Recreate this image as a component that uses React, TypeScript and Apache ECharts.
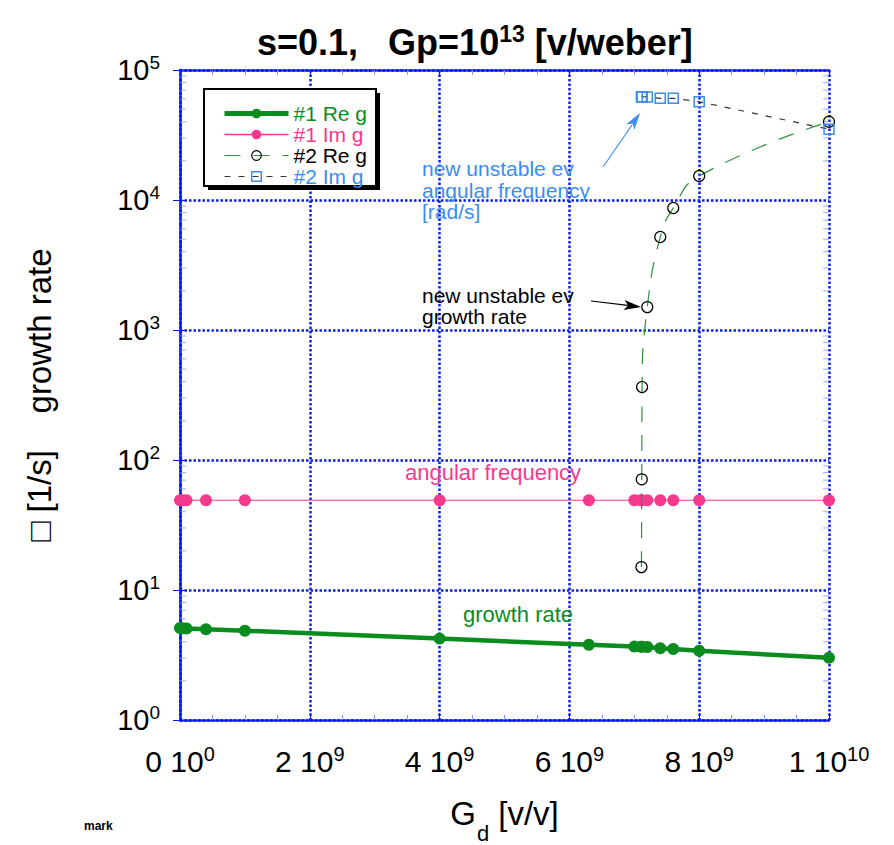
import React, { useEffect, useRef } from "react";
import * as echarts from "echarts";

// ---------- data ----------
const xTickValues = [0, 2e9, 4e9, 6e9, 8e9, 1e10];
const xTickLabels = ["0 10{sup|0}", "2 10{sup|9}", "4 10{sup|9}", "6 10{sup|9}", "8 10{sup|9}", "1 10{sup|10}"];
const yTickValues = [1, 10, 100, 1000, 10000, 100000];
const yTickLabels = ["10{sup|0}", "10{sup|1}", "10{sup|2}", "10{sup|3}", "10{sup|4}", "10{sup|5}"];
const yMinorTicks = [
  2, 3, 4, 5, 6, 7, 8, 9,
  20, 30, 40, 50, 60, 70, 80, 90,
  200, 300, 400, 500, 600, 700, 800, 900,
  2000, 3000, 4000, 5000, 6000, 7000, 8000, 9000,
  20000, 30000, 40000, 50000, 60000, 70000, 80000, 90000,
];

// mode #1 (Gd values)
const gd1 = [0, 0.04e9, 0.1e9, 0.4e9, 1e9, 4e9, 6.3e9, 7.0e9, 7.1e9, 7.12e9, 7.2e9, 7.4e9, 7.6e9, 8e9, 1e10];
const reG1 = [5.1, 5.08, 5.06, 4.99, 4.86, 4.23, 3.79, 3.67, 3.66, 3.66, 3.64, 3.56, 3.52, 3.41, 3.01];
const imG1 = [49, 49, 49, 49, 49, 49, 49, 49, 49, 49, 49, 49, 49, 49, 49];

// mode #2 (new unstable eigenvalue)
const gd2 = [7.11e9, 7.115e9, 7.12e9, 7.2e9, 7.4e9, 7.6e9, 8e9, 1e10];
const reG2 = [15, 71, 364, 1500, 5190, 8680, 15300, 40000];
const imG2 = [62300, 62300, 62300, 62000, 60600, 60500, 57000, 35000];

const FONT = '"Liberation Sans", Arial, Helvetica, sans-serif';
const GRID_BLUE = "#0a1ef0";
const MINOR_BLUE = "#8a94f2";
const GREEN = "#0a8c1e";
const GREEN2 = "#2f9140";
const PINK = "#f53a8e";
const BLUE = "#3d8cf0";

const zip = (xs: number[], ys: number[]) => xs.map((x, i) => [x, ys[i]]);

export default function App() {
  const ref = useRef<HTMLDivElement>(null);
  useEffect(() => {
    if (!ref.current) return;
    const chart = echarts.init(ref.current, null, { renderer: "svg" });

    const dotted = { color: GRID_BLUE, width: 2.5, type: [2.5, 2] as number[] };
    const xLabelFmt = (v: number) => {
      const i = xTickValues.findIndex((t) => Math.abs(t - v) < 1);
      return i >= 0 ? xTickLabels[i] : "";
    };
    const yLabelFmt = (v: number) => {
      const i = yTickValues.findIndex((t) => Math.abs(t - v) / t < 1e-6);
      return i >= 0 ? yTickLabels[i] : "";
    };

    const arrowHead = (tip: number[], from: number[], len: number, half: number, notch: number) => {
      const dx = tip[0] - from[0];
      const dy = tip[1] - from[1];
      const L = Math.hypot(dx, dy);
      const ux = dx / L, uy = dy / L;
      const px = -uy, py = ux;
      const bx = tip[0] - len * ux, by = tip[1] - len * uy;
      const nx = tip[0] - notch * ux, ny = tip[1] - notch * uy;
      return [
        [tip[0], tip[1]],
        [bx + half * px, by + half * py],
        [nx, ny],
        [bx - half * px, by - half * py],
      ];
    };

    const option: any = {
      animation: false,
      backgroundColor: "#fff",
      title: {
        text: "s=0.1,   Gp=10{sup|13} [v/weber]",
        left: 257,
        top: 22,
        padding: 0,
        textStyle: {
          fontFamily: FONT,
          fontSize: 36,
          fontWeight: "bold",
          color: "#000",
          lineHeight: 40,
          rich: {
            sup: { fontFamily: FONT, fontSize: 23, fontWeight: "bold", lineHeight: 15, verticalAlign: "top", color: "#000" },
          },
        },
      },
      grid: { left: 180, right: 65, top: 70, bottom: 125, containLabel: false, outerBoundsMode: "none" },
      legend: {
        orient: "vertical",
        left: 217,
        top: 98,
        itemWidth: 64,
        itemHeight: 12,
        itemGap: 0,
        z: 20,
        selectedMode: false,
        textStyle: { fontFamily: FONT, fontSize: 21, lineHeight: 19.6 },
        data: [
          { name: "#1 Re g", textStyle: { color: GREEN }, lineStyle: { width: 5 }, itemStyle: { borderWidth: 0 } },
          { name: "#1 Im g", textStyle: { color: PINK }, lineStyle: { width: 1.5 }, itemStyle: { borderWidth: 0 } },
          { name: "#2 Re g", textStyle: { color: "#000" }, lineStyle: { width: 1.2 }, itemStyle: { borderWidth: 1.2 } },
          { name: "#2 Im g", textStyle: { color: BLUE }, lineStyle: { width: 1.2 }, itemStyle: { borderWidth: 1.5 } },
        ],
      },
      xAxis: [
        {
          type: "value",
          position: "bottom",
          min: 0,
          max: 1e10,
          interval: 2e9,
          name: "G{sub|d} [v/v]",
          nameLocation: "middle",
          nameGap: 60,
          nameTextStyle: {
            fontFamily: FONT,
            fontSize: 33,
            color: "#000",
            lineHeight: 38,
            rich: {
              sub: { fontFamily: FONT, fontSize: 22, color: "#000", lineHeight: 22, padding: [40, 0, 0, 1] },
            },
          },
          axisLine: { show: true, lineStyle: dotted },
          axisTick: { show: true, inside: true, length: 7, lineStyle: { color: GRID_BLUE, width: 1 } },
          minorTick: { show: true, splitNumber: 4, length: 5, lineStyle: { color: MINOR_BLUE, width: 1 } },
          splitLine: { show: true, lineStyle: dotted },
          axisLabel: {
            formatter: xLabelFmt,
            margin: 24,
            fontFamily: FONT,
            fontSize: 30,
            color: "#000",
            lineHeight: 34,
            rich: {
              sup: { fontFamily: FONT, fontSize: 20, color: "#000", lineHeight: 14, verticalAlign: "top" },
            },
          },
        },
        {
          type: "value",
          position: "top",
          min: 0,
          max: 1e10,
          interval: 2e9,
          axisLine: { show: true, lineStyle: dotted },
          axisTick: { show: true, inside: true, length: 7, lineStyle: { color: GRID_BLUE, width: 1 } },
          minorTick: { show: true, splitNumber: 4, length: 5, lineStyle: { color: MINOR_BLUE, width: 1 } },
          splitLine: { show: false },
          axisLabel: { show: false },
        },
      ],
      yAxis: [
        {
          type: "log",
          logBase: 10,
          position: "left",
          min: 1,
          max: 1e5,
          name: "\u25A1 [1/s]    growth rate",
          nameLocation: "middle",
          nameRotate: 90,
          nameGap: 124,
          nameTextStyle: { fontFamily: FONT, fontSize: 33, color: "#000" },
          axisLine: { show: true, lineStyle: dotted },
          axisTick: { show: true, inside: true, length: 7, lineStyle: { color: GRID_BLUE, width: 1 } },
          splitLine: { show: true, lineStyle: dotted },
          axisLabel: {
            formatter: yLabelFmt,
            margin: 20,
            fontFamily: FONT,
            fontSize: 29,
            color: "#000",
            lineHeight: 34,
            rich: {
              sup: { fontFamily: FONT, fontSize: 19, color: "#000", lineHeight: 14, verticalAlign: "top" },
            },
          },
        },
        {
          type: "log",
          logBase: 10,
          position: "right",
          min: 1,
          max: 1e5,
          axisLine: { show: true, lineStyle: dotted },
          axisTick: { show: true, inside: true, length: 7, lineStyle: { color: GRID_BLUE, width: 1 } },
          splitLine: { show: false },
          axisLabel: { show: false },
        },
      ],
      series: [
        {
          name: "yMinorLeft",
          type: "scatter",
          data: yMinorTicks.map((v) => [0, v]),
          symbol: "rect",
          symbolSize: [6, 1],
          symbolOffset: [3, 0],
          itemStyle: { color: MINOR_BLUE },
          silent: true,
          clip: false,
          z: 1,
        },
        {
          name: "yMinorRight",
          type: "scatter",
          data: yMinorTicks.map((v) => [1e10, v]),
          symbol: "rect",
          symbolSize: [6, 1],
          symbolOffset: [-3, 0],
          itemStyle: { color: MINOR_BLUE },
          silent: true,
          clip: false,
          z: 1,
        },
        {
          name: "#1 Re g",
          type: "line",
          data: zip(gd1, reG1),
          symbol: "circle",
          symbolSize: 12,
          lineStyle: { color: GREEN, width: 4.5 },
          itemStyle: { color: GREEN },
          clip: false,
          z: 5,
        },
        {
          name: "#1 Im g",
          type: "line",
          data: zip(gd1, imG1),
          symbol: "circle",
          symbolSize: 12,
          lineStyle: { color: PINK, width: 1.2 },
          itemStyle: { color: PINK },
          clip: false,
          z: 5,
        },
        {
          name: "#2 Re g",
          type: "line",
          data: zip(gd2, reG2),
          symbol: "circle",
          symbolSize: 11,
          smooth: 0.5,
          lineStyle: { color: GREEN2, width: 1.2, type: [16, 13] },
          itemStyle: { color: "transparent", borderColor: "#000", borderWidth: 1.2 },
          clip: false,
          z: 6,
        },
        {
          name: "#2 Im g",
          type: "line",
          data: zip(gd2, imG2),
          symbol: "rect",
          symbolSize: 10,
          lineStyle: { color: "#333", width: 1.2, type: [6, 8] },
          itemStyle: { color: "transparent", borderColor: BLUE, borderWidth: 1.5 },
          clip: false,
          z: 6,
        },
      ],
      graphic: [
        // legend box shadow + box
        { type: "rect", z: 10, shape: { x: 208, y: 93, width: 172, height: 97 }, style: { fill: "#000" } },
        { type: "rect", z: 11, shape: { x: 204, y: 89, width: 172, height: 97 }, style: { fill: "#fff", stroke: "#000", lineWidth: 2 } },
        // annotations
        {
          type: "text",
          z: 12,
          x: 422,
          y: 158,
          style: {
            text: "new unstable ev\nangular frequency\n[rad/s]",
            fill: BLUE,
            fontFamily: FONT,
            fontSize: 21,
            lineHeight: 21.5,
            verticalAlign: "top",
          },
        },
        {
          type: "text",
          z: 12,
          x: 422,
          y: 285,
          style: {
            text: "new unstable ev\ngrowth rate",
            fill: "#000",
            fontFamily: FONT,
            fontSize: 21,
            lineHeight: 21,
            verticalAlign: "top",
          },
        },
        {
          type: "text",
          z: 12,
          x: 405,
          y: 472,
          style: { text: "angular frequency", fill: PINK, fontFamily: FONT, fontSize: 22, verticalAlign: "middle" },
        },
        {
          type: "text",
          z: 12,
          x: 463,
          y: 614,
          style: { text: "growth rate", fill: GREEN, fontFamily: FONT, fontSize: 22, verticalAlign: "middle" },
        },
        // arrows
        { type: "line", z: 12, shape: { x1: 603, y1: 167, x2: 632, y2: 125 }, style: { stroke: BLUE, lineWidth: 1.2 } },
        { type: "polygon", z: 12, shape: { points: arrowHead([640, 113], [603, 167], 17, 5, 13) }, style: { fill: BLUE } },
        { type: "line", z: 12, shape: { x1: 591, y1: 301, x2: 630, y2: 305.7 }, style: { stroke: "#000", lineWidth: 1.2 } },
        { type: "polygon", z: 12, shape: { points: arrowHead([641, 307], [591, 301], 17, 5, 13) }, style: { fill: "#000" } },
        // stray caption at bottom-left
        {
          type: "text",
          z: 12,
          x: 84,
          y: 826,
          style: { text: "mark", fill: "#000", fontFamily: FONT, fontSize: 12, fontWeight: "bold", verticalAlign: "middle" },
        },
      ],
    };

    chart.setOption(option);
    return () => chart.dispose();
  }, []);

  return (
    <div
      ref={ref}
      style={{ position: "absolute", left: 0, top: 0, width: 894, height: 845, background: "#fff" }}
    />
  );
}
